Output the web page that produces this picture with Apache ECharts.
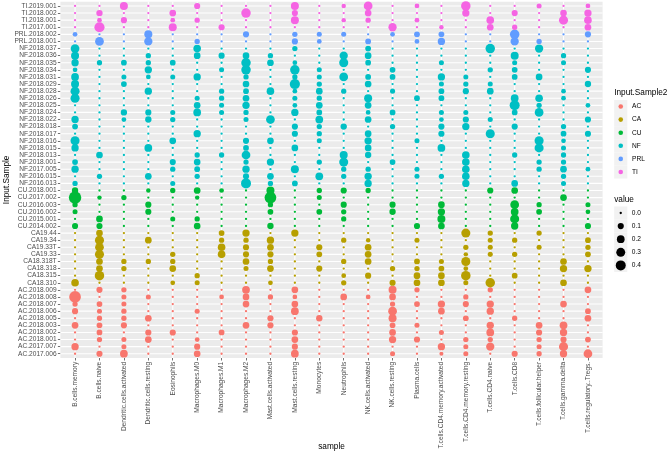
<!DOCTYPE html>
<html><head><meta charset="utf-8">
<script src="https://cdn.jsdelivr.net/npm/echarts@6/dist/echarts.min.js"></script>
<style>html,body{margin:0;padding:0;background:#fff}#c{width:668px;height:453px}</style>
</head><body><div id="c"></div>
<script>
// ---------------- data ----------------
const xCats = ['B.cells.memory','B.cells.naive','Dendritic.cells.activated','Dendritic.cells.resting','Eosinophils','Macrophages.M0','Macrophages.M1','Macrophages.M2','Mast.cells.activated','Mast.cells.resting','Monocytes','Neutrophils','NK.cells.activated','NK.cells.resting','Plasma.cells','T.cells.CD4.memory.activated','T.cells.CD4.memory.resting','T.cells.CD4.naive','T.cells.CD8','T.cells.follicular.helper','T.cells.gamma.delta','T.cells.regulatory..Tregs.'];

const acRows = ['AC.2017.006','AC.2017.007','AC.2018.001','AC.2018.002','AC.2018.003','AC.2018.005','AC.2018.006','AC.2018.007','AC.2018.008','AC.2018.009'];
const acValues = [
[0,0.10,0.20,0,0,0.13,0,0,0,0.20,0, 0,0,0.05,0,0.02,0.05,0,0.10,0.06,0.17,0.28],
[0.17,0,0.05,0,0,0.10,0,0,0,0.10,0, 0,0,0,0,0.17,0.05,0.24,0,0.05,0.31,0],
[0,0.06,0.05,0.13,0,0.04,0,0,0,0.13,0, 0,0,0.17,0.10,0,0.06,0.06,0,0.06,0.10,0.08],
[0,0.08,0,0.10,0.10,0,0.08,0,0,0.10,0, 0,0,0.13,0,0.05,0,0.20,0,0.10,0.17,0],
[0.13,0.08,0.10,0,0,0,0,0.13,0.10,0,0, 0,0,0.08,0.05,0,0,0.17,0,0.13,0.20,0],
[0,0.06,0.06,0.13,0,0,0,0,0.10,0,0.11, 0,0,0.22,0,0,0.08,0,0.06,0,0,0.13],
[0.10,0.05,0.06,0,0,0.05,0,0,0,0.20,0, 0,0,0.28,0,0.13,0,0.17,0,0,0,0.08],
[0.06,0.08,0.05,0,0,0,0,0.13,0,0.13,0, 0,0,0.06,0.08,0.17,0.10,0.17,0,0,0.13,0],
[0.6,0,0.05,0.05,0,0,0.04,0.13,0.06,0.04,0, 0.13,0.04,0.13,0,0,0.06,0,0,0,0,0],
[0,0.10,0.06,0,0,0,0,0.20,0,0.13,0, 0,0,0.22,0.06,0,0,0.06,0,0,0,0.13]
];

const caRows = ['CA18.310','CA18.315','CA18.318','CA18.318T','CA19.33','CA19.33T','CA19.34','CA19.44'];
const caValues = [
[0.19,0,0,0,0.04,0.05,0,0,0.04,0,0, 0.06,0,0.10,0.13,0.13,0.05,0.35,0,0,0.13,0],
[0,0.35,0,0,0,0.06,0,0,0,0,0, 0.04,0.10,0,0.13,0.13,0.35,0,0.08,0,0,0],
[0,0.13,0.06,0,0.13,0,0,0.05,0.13,0,0.10, 0,0,0.06,0.06,0.08,0.04,0,0,0,0.17,0.17],
[0,0.13,0.06,0.06,0.06,0,0,0.13,0.06,0,0, 0.06,0.13,0,0.08,0.05,0.31,0,0,0,0.13,0],
[0,0.31,0,0,0.06,0,0.19,0.10,0.10,0,0.08, 0,0.13,0,0,0,0.03,0.05,0.06,0,0,0.08],
[0,0.28,0,0,0,0,0.19,0.10,0.13,0,0.10, 0,0.13,0,0,0,0.06,0.05,0,0.05,0,0.06],
[0,0.31,0,0.13,0,0,0.06,0.06,0.17,0,0, 0.06,0.03,0,0.05,0,0,0.05,0.06,0,0,0.08],
[0,0.13,0,0,0,0,0.08,0.17,0,0.17,0, 0,0,0,0,0,0.31,0.06,0,0.06,0,0]
];

const cuRows = ['CU.2014.002','CU.2015.001','CU.2016.002','CU.2016.003','CU.2017.002','CU.2018.001'];
const cuValues = [
[0.10,0.10,0,0,0,0.13,0,0,0.11,0,0, 0,0,0,0.10,0.13,0,0,0.17,0,0,0.10],
[0,0.13,0,0,0.05,0.06,0,0,0,0,0, 0.06,0,0,0,0.22,0,0,0.31,0,0,0],
[0.05,0,0,0.10,0,0,0,0,0.08,0,0.08, 0.06,0,0.11,0,0.17,0,0,0.20,0.08,0,0.04],
[0.06,0,0,0.10,0,0,0,0,0.06,0,0, 0.10,0,0.10,0,0.13,0,0,0.28,0.06,0,0.05],
[0.7,0.03,0.06,0,0,0.03,0,0,0.6,0,0.05, 0,0,0,0,0,0,0,0,0,0.13,0],
[0.11,0,0,0.03,0.06,0.13,0.04,0,0.22,0,0.06, 0.10,0.06,0,0,0,0,0.10,0.13,0,0,0]
];

const nfRows = ['NF.2016.013','NF.2016.015','NF.2017.005','NF.2018.001','NF.2018.013','NF.2018.015','NF.2018.016','NF.2018.017','NF.2018.018','NF.2018.022','NF.2018.024','NF.2018.025','NF.2018.026','NF.2018.028','NF.2018.029','NF.2018.031','NF.2018.034','NF.2018.035','NF.2018.036','NF.2018.037'];
const nfValues = [
[0.06,0,0,0,0.05,0,0,0.40,0.06,0.08,0, 0,0.17,0,0,0,0.17,0,0.13,0,0.05,0],
[0,0.06,0,0.13,0,0.06,0,0.10,0.13,0,0.20, 0.06,0.17,0,0.05,0.06,0.19,0,0,0,0.06,0],
[0.17,0,0,0,0.06,0.08,0,0.17,0,0.22,0, 0.06,0.06,0,0.05,0,0.19,0,0,0.06,0.13,0.04],
[0.08,0,0,0,0.10,0.13,0,0.06,0.17,0,0.06, 0.31,0,0.08,0,0,0.19,0,0,0.06,0.06,0],
[0,0.13,0,0,0,0.06,0.06,0.28,0,0,0, 0.22,0.11,0,0,0,0.19,0,0.06,0,0.06,0],
[0.17,0,0,0.20,0,0,0,0.08,0,0.13,0, 0,0.13,0,0,0.20,0,0,0,0.31,0.05,0],
[0.31,0,0,0,0.13,0,0,0.10,0.13,0,0.05, 0,0.17,0,0.05,0,0,0,0,0.31,0.04,0],
[0,0,0,0,0,0.17,0,0,0,0.10,0.06, 0,0.13,0,0,0.10,0,0.31,0,0,0.08,0.10],
[0.08,0,0,0,0,0,0,0,0,0.10,0.06, 0.11,0,0.06,0,0.10,0.17,0,0.10,0,0.06,0],
[0.17,0,0.04,0.11,0.06,0,0,0.05,0.28,0,0.20, 0,0.13,0,0,0.04,0.10,0.05,0,0,0,0.10],
[0,0,0.11,0.10,0.05,0.20,0.05,0.06,0,0.17,0.08, 0,0.04,0.08,0,0.05,0.05,0,0.08,0.28,0,0],
[0,0,0,0,0,0.13,0.05,0.17,0,0.04,0.13, 0,0.13,0,0,0,0,0,0.40,0.06,0,0.04],
[0.31,0,0,0,0,0.05,0.06,0.13,0,0.05,0.06, 0,0.22,0,0.08,0.08,0,0,0.20,0.19,0.04,0],
[0.31,0,0,0.17,0,0,0.06,0.08,0.19,0.04,0.13, 0.06,0,0.05,0,0.08,0.10,0.13,0,0,0.04,0],
[0.22,0,0.08,0,0,0,0,0.13,0,0.42,0.06, 0,0.13,0,0,0.05,0.06,0.05,0,0,0,0.11],
[0.20,0,0.05,0.04,0.05,0.17,0,0.06,0,0.06,0.05, 0.28,0.08,0.08,0,0.17,0.05,0,0.08,0.13,0,0],
[0.04,0,0,0.17,0,0,0.05,0.35,0,0.35,0.05, 0,0,0.08,0,0,0,0.06,0.08,0,0,0.10],
[0.17,0.06,0.08,0.06,0.08,0,0,0.35,0.13,0.04,0, 0.31,0.08,0,0,0.05,0,0,0.05,0,0.05,0],
[0.22,0,0,0.06,0,0.13,0.10,0.13,0.06,0,0, 0.24,0.13,0,0,0,0,0,0.22,0,0.06,0],
[0.28,0,0,0,0,0.19,0,0,0,0.06,0, 0,0.08,0,0,0,0,0.35,0,0.24,0,0]
];

const prlRows = ['PRL.2018.001','PRL.2018.002'];
const prlValues = [
[0,0.28,0,0.24,0,0.06,0,0,0,0.10,0.04, 0,0.08,0,0.04,0.17,0,0,0.24,0.06,0,0],
[0.04,0,0,0.22,0,0,0,0.10,0,0.06,0.05, 0.05,0,0.04,0.08,0.08,0,0,0.35,0,0,0.10]
];

const tiRows = ['TI.2017.001','TI.2018.001','TI.2018.002','TI.2019.001'];
const tiValues = [
[0,0.42,0,0,0.22,0,0.10,0,0,0,0, 0,0,0.24,0,0.03,0,0.13,0.06,0,0,0.13],
[0,0.04,0.10,0,0.04,0.06,0,0,0,0.22,0, 0.03,0.06,0,0.04,0,0,0.19,0,0,0.31,0.19],
[0,0.11,0,0,0.13,0,0,0.35,0,0.10,0, 0,0.13,0,0,0,0.17,0,0.10,0,0.13,0.17],
[0,0,0.22,0,0,0.10,0,0,0,0.22,0, 0.03,0.28,0,0.04,0,0.35,0,0,0.05,0,0.04]
];

const groupNames = ['AC','CA','CU','NF','PRL','TI'];
const groupColors = ['#F8766D','#B79F00','#00BA38','#00BFC4','#619CFF','#F564E3'];
const sizeBreaks = [0, 0.1, 0.2, 0.3, 0.4];
const sizeBreakLabels = ['0.0','0.1','0.2','0.3','0.4'];

// ---------------- layout / style ----------------
const FONT = "'Liberation Sans', Arial, Helvetica, sans-serif";
const PANEL = {x0: 60.4, x1: 602.6, y0: 1.7, y1: 358};
const W = 668, H = 453;
const groupRows = [acRows, caRows, cuRows, nfRows, prlRows, tiRows];
const groupValues = [acValues, caValues, cuValues, nfValues, prlValues, tiValues];
const yCats = [].concat(...groupRows);
const uX = (PANEL.x1 - PANEL.x0) / (xCats.length + 0.2);
const uY = (PANEL.y1 - PANEL.y0) / (yCats.length + 0.2);
const gridBox = {
  left: PANEL.x0 + 0.1 * uX, right: W - (PANEL.x1 - 0.1 * uX),
  top: PANEL.y0 + 0.1 * uY, bottom: H - (PANEL.y1 - 0.1 * uY)
};
function dotSize(v) { return 2.3 + 12.16 * Math.sqrt(Math.max(v, 0)); }

const chart = echarts.init(document.getElementById('c'), null, {renderer: 'canvas'});

const scatterSeries = groupNames.map((name, gi) => {
  const data = [];
  groupRows[gi].forEach((r, ri) => {
    groupValues[gi][ri].forEach((v, ci) => data.push([xCats[ci], r, v]));
  });
  return {
    type: 'scatter', name: name, data: data, z: 3, silent: true,
    symbol: 'circle',
    symbolSize: d => dotSize(d[2]),
    itemStyle: {color: groupColors[gi], opacity: 1, borderWidth: 0}
  };
});

const gridV = {
  type: 'custom', silent: true, z: 1,
  data: xCats.map(c => [c, yCats[0]]),
  renderItem: (params, api) => {
    const p = api.coord([api.value(0), api.value(1)]);
    const cs = params.coordSys;
    return {type: 'line', shape: {x1: p[0], y1: cs.y - 0.1 * uY, x2: p[0], y2: cs.y + cs.height + 0.1 * uY},
      style: {stroke: '#FFFFFF', lineWidth: 1.1}};
  }
};
const gridH = {
  type: 'custom', silent: true, z: 1,
  data: yCats.map(c => [xCats[0], c]),
  renderItem: (params, api) => {
    const p = api.coord([api.value(0), api.value(1)]);
    const cs = params.coordSys;
    return {type: 'line', shape: {x1: cs.x - 0.1 * uX, y1: p[1], x2: cs.x + cs.width + 0.1 * uX, y2: p[1]},
      style: {stroke: '#FFFFFF', lineWidth: 1.1}};
  }
};

// legend geometry
const KEY = 13.1, keyX = 614.2, colorTop = 99.95, sizeTop = 206.45;
const graphics = [
  {type: 'rect', z: -5, silent: true,
   shape: {x: PANEL.x0, y: PANEL.y0, width: PANEL.x1 - PANEL.x0, height: PANEL.y1 - PANEL.y0},
   style: {fill: '#EBEBEB'}},
  {type: 'text', silent: true, x: keyX, y: colorTop - 7,
   style: {text: 'Input.Sample2', font: '8.25px ' + FONT, fill: '#000', textVerticalAlign: 'middle', verticalAlign: 'middle'}},
  {type: 'text', silent: true, x: keyX, y: sizeTop - 7,
   style: {text: 'value', font: '8.25px ' + FONT, fill: '#000', textVerticalAlign: 'middle', verticalAlign: 'middle'}}
];
groupNames.forEach((n, i) => {
  graphics.push({type: 'rect', z: 0, silent: true,
    shape: {x: keyX, y: colorTop + i * KEY, width: KEY, height: KEY}, style: {fill: '#F2F2F2'}});
});
sizeBreaks.forEach((v, i) => {
  const cy = sizeTop + i * KEY + KEY / 2;
  graphics.push({type: 'rect', z: 0, silent: true,
    shape: {x: keyX, y: sizeTop + i * KEY, width: KEY, height: KEY}, style: {fill: '#F2F2F2'}});
  graphics.push({type: 'circle', z: 1, silent: true,
    shape: {cx: keyX + KEY / 2, cy: cy, r: dotSize(v) / 2}, style: {fill: '#000'}});
  graphics.push({type: 'text', silent: true, x: keyX + KEY + 4.5, y: cy,
    style: {text: sizeBreakLabels[i], font: '6.6px ' + FONT, fill: '#000', textVerticalAlign: 'middle', verticalAlign: 'middle'}});
});

const axisLabelStyle = {fontSize: 6.6, color: '#4D4D4D', fontFamily: FONT};
chart.setOption({
  animation: false,
  backgroundColor: '#FFFFFF',
  grid: {left: gridBox.left, right: gridBox.right, top: gridBox.top, bottom: gridBox.bottom,
         containLabel: false, outerBoundsMode: 'none'},
  xAxis: {
    type: 'category', data: xCats, boundaryGap: true, offset: 0.1 * uY,
    axisLine: {show: false},
    axisTick: {show: true, alignWithLabel: true, length: 2.5, lineStyle: {color: '#333333', width: 0.7}},
    axisLabel: Object.assign({rotate: 90, margin: 3.8, interval: 0}, axisLabelStyle),
    splitLine: {show: false},
    name: 'sample', nameLocation: 'middle', nameGap: 84.5, nameMoveOverlap: false,
    nameTextStyle: {fontSize: 8.25, color: '#000', fontFamily: FONT}
  },
  yAxis: {
    type: 'category', data: yCats, boundaryGap: true, offset: 0.1 * uX,
    axisLine: {show: false},
    axisTick: {show: true, alignWithLabel: true, length: 2.5, lineStyle: {color: '#333333', width: 0.7}},
    axisLabel: Object.assign({margin: 3.8, interval: 0}, axisLabelStyle),
    splitLine: {show: false},
    name: 'Input.Sample', nameLocation: 'middle', nameGap: 49.5, nameRotate: 90, nameMoveOverlap: false,
    nameTextStyle: {fontSize: 8.25, color: '#000', fontFamily: FONT}
  },
  legend: {
    data: groupNames, orient: 'vertical', left: keyX + KEY / 2 - 2.3, top: colorTop,
    padding: 0, itemGap: 0, itemWidth: 4.6, itemHeight: 4.6, icon: 'circle',
    selectedMode: false,
    textStyle: {fontSize: 6.6, color: '#000', fontFamily: FONT, lineHeight: KEY, height: KEY, padding: [0, 0, 0, 4]}
  },
  graphic: {elements: graphics},
  series: [gridV, gridH].concat(scatterSeries)
});
</script></body></html>
